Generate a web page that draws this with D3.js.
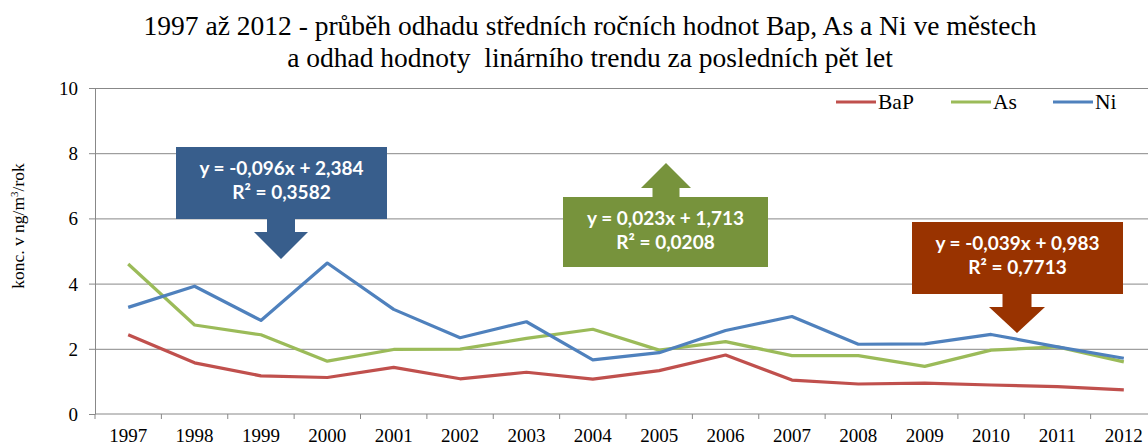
<!DOCTYPE html>
<html>
<head>
<meta charset="utf-8">
<script src="https://cdn.jsdelivr.net/npm/d3@7"></script>
<style>
  body { margin: 0; background: #fff; }
  svg { display: block; }
</style>
</head>
<body>
<script>
// data
const years = ['1997','1998','1999','2000','2001','2002','2003','2004',
               '2005','2006','2007','2008','2009','2010','2011','2012']
const bap = [2.43, 1.57, 1.17, 1.12, 1.43, 1.08, 1.28, 1.07, 1.33, 1.81, 1.04, 0.92, 0.95, 0.89, 0.84, 0.74]
const as  = [4.60, 2.73, 2.43, 1.62, 1.98, 1.99, 2.32, 2.60, 1.96, 2.22, 1.79, 1.79, 1.46, 1.96, 2.06, 1.60]
const ni  = [3.27, 3.92, 2.87, 4.63, 3.21, 2.34, 2.83, 1.66, 1.88, 2.56, 2.99, 2.14, 2.15, 2.44, 2.06, 1.71]
const seriesNames = ['BaP', 'As', 'Ni']
const yTicks = [0, 2, 4, 6, 8, 10]
const titleLines = ['1997 až 2012 - průběh odhadu středních ročních hodnot Bap, As a Ni ve městech',
                    'a odhad hodnoty  linárního trendu za posledních pět let']
const trendLabels = [
  ['y = -0,096x + 2,384', 'R² = 0,3582'],
  ['y = 0,023x + 1,713', 'R² = 0,0208'],
  ['y = -0,039x + 0,983', 'R² = 0,7713']
]

const WIDTH = 1148, HEIGHT = 446
const PLOT = { left: 95, right: 1157, top: 88, bottom: 414 }
const COLORS = { BaP: '#c0504d', As: '#9bbb59', Ni: '#4f81bd' }
const GRID = '#888888'
const SERIF = '"Liberation Serif", "Times New Roman", serif'
const SANS = 'Lato, "Open Sans", sans-serif'

// callout boxes (pixel layout), arrow: shaft width, head width, shaft length, head length
const CALLOUTS = [
  { x: 176, y: 147, w: 211, h: 72, cx: 281, dir: 'down', sw: 28, hw: 54, sl: 13, hl: 27, fill: '#385e8c' },
  { x: 563, y: 197, w: 205, h: 70, cx: 666, dir: 'up',   sw: 27, hw: 50, sl: 9,  hl: 25, fill: '#77933c' },
  { x: 912, y: 222, w: 211, h: 72, cx: 1017, dir: 'down', sw: 29, hw: 56, sl: 13, hl: 26, fill: '#993300' }
]

let svg = d3.select('body').append('svg')
  .attr('width', WIDTH)
  .attr('height', HEIGHT)
  .style('font-family', SERIF)

let x = d3.scaleBand()
  .domain(years)
  .range([PLOT.left, PLOT.right])
let y = d3.scaleLinear()
  .domain([0, 10])
  .range([PLOT.bottom, PLOT.top])

// title
svg.append('g')
  .selectAll('text')
  .data(titleLines)
  .enter().append('text')
    .attr('x', 590)
    .attr('y', (d, i) => 35 + i * 32)
    .attr('text-anchor', 'middle')
    .style('font-family', SERIF)
    .style('font-size', '27.5px')
    .style('white-space', 'pre')
    .text((d) => d)

// y axis label
svg.append('text')
  .attr('transform', 'translate(24,226) rotate(-90)')
  .attr('text-anchor', 'middle')
  .style('font-family', SERIF)
  .style('font-size', '17.5px')
  .call((t) => {
    t.append('tspan').text('konc. v ng/m')
    t.append('tspan').attr('dy', -6).style('font-size', '11px').text('3')
    t.append('tspan').attr('dy', 6).text('/rok')
  })

// y axis + gridlines
let yAxis = svg.append('g')
  .attr('transform', 'translate(' + PLOT.left + ',0)')
  .call(d3.axisLeft(y)
    .tickValues(yTicks)
    .tickSize(6)
    .tickPadding(11)
    .tickSizeOuter(0))
yAxis.select('.domain').attr('stroke', GRID)
yAxis.selectAll('.tick line').attr('stroke', GRID)
yAxis.selectAll('.tick text')
  .style('font-family', SERIF)
  .style('font-size', '19px')
  .attr('fill', '#000')
  .attr('dy', '0.34em')
yAxis.selectAll('.tick').filter((d) => d > 0)
  .append('line')
    .attr('x2', PLOT.right - PLOT.left)
    .attr('stroke', GRID)

// x axis
let xAxis = svg.append('g')
  .attr('transform', 'translate(0,' + PLOT.bottom + ')')
  .call(d3.axisBottom(x)
    .tickSize(0)
    .tickPadding(15)
    .tickSizeOuter(0))
xAxis.select('.domain').remove()
xAxis.append('line')
  .attr('x1', PLOT.left)
  .attr('x2', PLOT.right)
  .attr('stroke', GRID)
xAxis.selectAll('.tick text')
  .style('font-family', SERIF)
  .style('font-size', '19px')
  .attr('fill', '#000')
xAxis.selectAll('.boundary')
  .data(years)
  .enter().append('line')
    .attr('class', 'boundary')
    .attr('x1', (d) => x(d))
    .attr('x2', (d) => x(d))
    .attr('y2', 5)
    .attr('stroke', GRID)

// lines
let line = d3.line()
  .x((d, i) => x(years[i]) + x.bandwidth() / 2)
  .y((d) => y(d))
let seriesData = [bap, as, ni]
svg.append('g')
  .selectAll('path')
  .data(seriesData)
  .enter().append('path')
    .attr('d', line)
    .attr('fill', 'none')
    .attr('stroke', (d, i) => COLORS[seriesNames[i]])
    .attr('stroke-width', 3.2)
    .attr('stroke-linejoin', 'round')

// legend
let legendX = [836, 951, 1053]
let legend = svg.append('g')
  .selectAll('g')
  .data(seriesNames)
  .enter().append('g')
    .attr('transform', (d, i) => 'translate(' + legendX[i] + ',102)')
legend.append('line')
  .attr('x2', 40)
  .attr('stroke', (d) => COLORS[d])
  .attr('stroke-width', 3.2)
legend.append('text')
  .attr('x', 42)
  .attr('dy', '0.34em')
  .style('font-family', SERIF)
  .style('font-size', '21.5px')
  .text((d) => d)

// trend callouts
function calloutPath(c) {
  let l = c.cx - c.sw / 2, r = c.cx + c.sw / 2
  let hl = c.cx - c.hw / 2, hr = c.cx + c.hw / 2
  if (c.dir === 'down') {
    let b = c.y + c.h, s = b + c.sl, t = s + c.hl
    return 'M' + [c.x, c.y] + 'H' + (c.x + c.w) + 'V' + b + 'H' + r + 'V' + s + 'H' + hr +
           'L' + [c.cx, t] + 'L' + [hl, s] + 'H' + l + 'V' + b + 'H' + c.x + 'Z'
  }
  let s = c.y - c.sl, t = s - c.hl
  return 'M' + [c.x, c.y + c.h] + 'V' + c.y + 'H' + l + 'V' + s + 'H' + hl +
         'L' + [c.cx, t] + 'L' + [hr, s] + 'H' + r + 'V' + c.y + 'H' + (c.x + c.w) +
         'V' + (c.y + c.h) + 'Z'
}
let callout = svg.append('g')
  .selectAll('g')
  .data(CALLOUTS)
  .enter().append('g')
callout.append('path')
  .attr('d', calloutPath)
  .attr('fill', (d) => d.fill)
callout.each(function(c, i) {
  d3.select(this).selectAll('text')
    .data(trendLabels[i])
    .enter().append('text')
      .attr('x', c.x + c.w / 2)
      .attr('y', (d, j) => c.y + 28 + j * 24)
      .attr('text-anchor', 'middle')
      .attr('fill', '#fff')
      .style('font-family', SANS)
      .style('font-weight', 'bold')
      .style('font-size', '19px')
      .text((d) => d)
})
</script>
</body>
</html>
